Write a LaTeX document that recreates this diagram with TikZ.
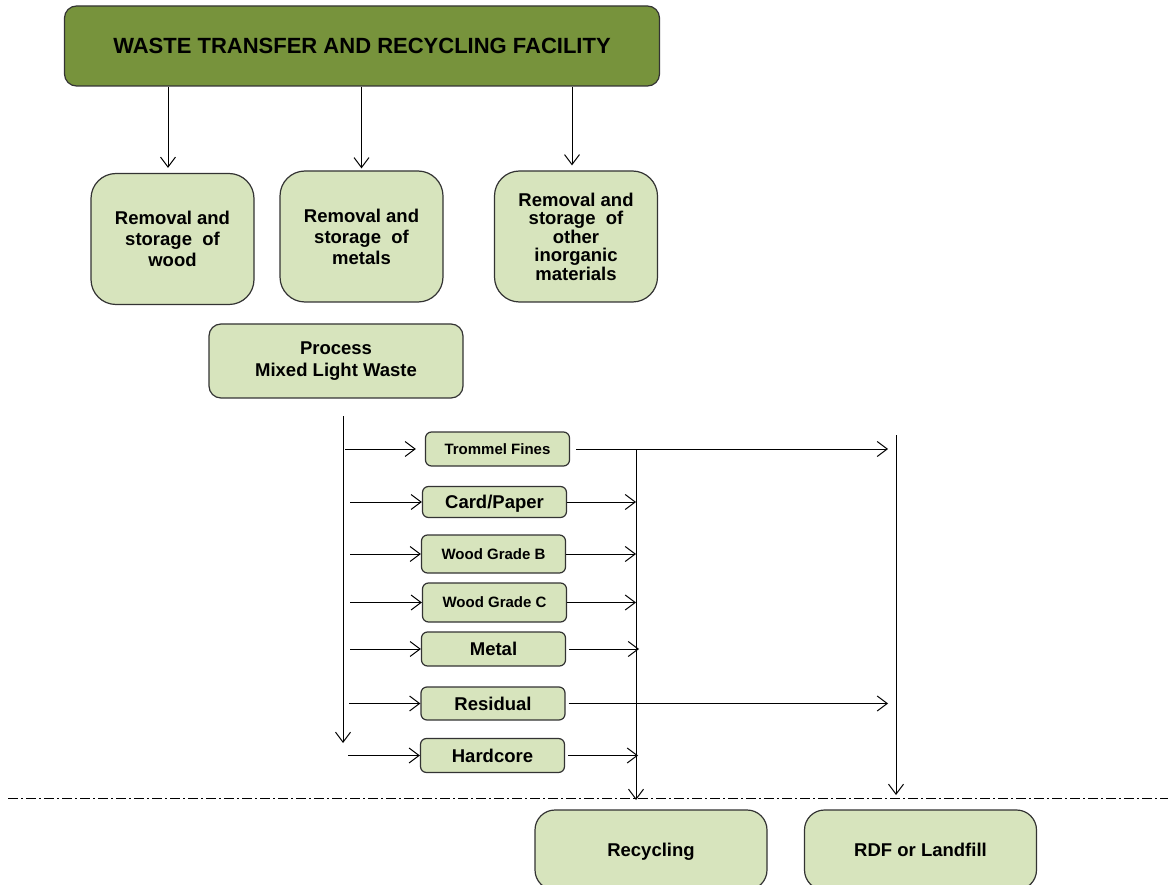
\documentclass[tikz,border=0pt]{standalone}
\usepackage{fontspec}
\setmainfont{Liberation Sans}
\usetikzlibrary{arrows.meta}

\definecolor{facgreen}{RGB}{119,147,60}
\definecolor{boxgreen}{RGB}{215,228,189}
\newcommand{\bigtxt}{\fontsize{18.5}{21}\selectfont\bfseries}
\newcommand{\smalltxt}{\fontsize{15}{18}\selectfont\bfseries}

\begin{document}
\begin{tikzpicture}[x=1pt,y=-1pt,>={Straight Barb[length=10pt,width=15pt]},line width=1pt]
    % box styles, sizes
    \tikzstyle{facility}=[rectangle,rounded corners=12pt,line width=1.2pt,draw=black!80,fill=facgreen,
    minimum width=595pt,minimum height=80pt,font=\fontsize{22}{26}\selectfont\bfseries]
    \tikzstyle{storage}=[rectangle,rounded corners=25pt,line width=1.2pt,draw=black!80,fill=boxgreen,
    minimum width=163pt,minimum height=131pt,align=center,font=\bigtxt]
    \tikzstyle{process}=[rectangle,rounded corners=12pt,line width=1.2pt,draw=black!80,fill=boxgreen,
    minimum width=254pt,minimum height=74pt,align=center,font=\fontsize{18.5}{22}\selectfont\bfseries]
    \tikzstyle{stream}=[rectangle,rounded corners=6pt,line width=1.2pt,draw=black!80,fill=boxgreen,
    minimum width=144pt,minimum height=34pt,inner sep=0pt,text height=13pt,text depth=0pt,font=\bigtxt]
    \tikzstyle{small}=[text height=10.7pt,font=\smalltxt]
    \tikzstyle{outlet}=[rectangle,rounded corners=20pt,line width=1.2pt,draw=black!80,fill=boxgreen,
    minimum width=232pt,minimum height=80pt,text height=13pt,text depth=0pt,font=\bigtxt]

    \clip (0,0) rectangle (1168,885);

    \node [facility] (waste) at (362,46) {WASTE TRANSFER AND RECYCLING FACILITY};

    \node [storage] (wood)  at (172.5,239) {Removal and\\storage\ \ of\\wood};
    \node [storage] (metals) at (361.5,236.5) {Removal and\\storage\ \ of\\metals};
    \node [storage,font=\fontsize{18.5}{18.5}\selectfont\bfseries] (other) at (576,236.5)
        {Removal and\\storage\ \ of\\other\\inorganic\\materials};

    \node [process] (mlw) at (336,361) {Process\\Mixed Light Waste};

    \node [stream,small] (fines) at (497.5,449) {Trommel Fines};
    \node [stream,minimum height=31pt] (paper) at (494.5,502) {Card/Paper};
    \node [stream,small,minimum height=38pt] (woodb) at (493.5,554) {Wood Grade B};
    \node [stream,small,minimum height=39pt] (woodc) at (494.5,602.5) {Wood Grade C};
    \node [stream] (metal) at (493.5,649) {Metal};
    \node [stream,minimum height=33pt] (resid) at (493,703.5) {Residual};
    \node [stream] (hard) at (492.5,755.5) {Hardcore};

    \node [outlet] (recyc) at (651,850) {Recycling};
    \node [outlet] (rdf) at (920.5,850) {RDF or Landfill};

    \coordinate (mtop) at (343,416);
    \coordinate (mbot) at (343,743);
    \coordinate (rtop) at (636,449);
    \coordinate (rbot) at (636,800);
    \coordinate (ltop) at (896,435);
    \coordinate (lbot) at (896,795);
    \coordinate (sepl) at (8,798);
    \coordinate (sepr) at (1168,798);

    \path (waste.south -| 168,0) edge [->] ([yshift=5pt]wood.north -| 168,0);
    \path (waste.south -| metals.north) edge [->] ([yshift=2pt]metals.north);
    \path (waste.south -| 572,0) edge [->] ([yshift=5pt]other.north -| 572,0);

    \path (mtop) edge [->] (mbot);
    \path ([xshift=2pt]mtop |- fines.west) edge [->] ([xshift=-9pt]fines.west);
    \path ([xshift=7pt]mtop |- paper.west) edge [->] (paper.west);
    \path ([xshift=7pt]mtop |- woodb.west) edge [->] (woodb.west);
    \path ([xshift=7pt]mtop |- woodc.west) edge [->] (woodc.west);
    \path ([xshift=7pt]mtop |- metal.west) edge [->] (metal.west);
    \path ([xshift=6pt]mtop |- resid.west) edge [->] (resid.west);
    \path ([xshift=5pt]mtop |- hard.west) edge [->] (hard.west);

    \path (rtop) edge [->] (rbot);
    \path (ltop) edge [->] (lbot);
    \path ([xshift=6pt]fines.east) edge [->] ([xshift=-8pt]ltop |- fines.east);
    \path (paper.east) edge [->] (rtop |- paper.east);
    \path (woodb.east) edge [->] (rtop |- woodb.east);
    \path (woodc.east) edge [->] (rtop |- woodc.east);
    \path ([xshift=3pt]metal.east) edge [->] ([xshift=3pt]rtop |- metal.east);
    \path ([xshift=3pt]resid.east) edge [->] ([xshift=-8pt]ltop |- resid.east);
    \path ([xshift=3pt]hard.east) edge [->] ([xshift=2pt]rtop |- hard.east);

    \draw [dash pattern=on 10pt off 3pt on 2pt off 3pt] (sepl) -- (sepr);
\end{tikzpicture}
\end{document}
